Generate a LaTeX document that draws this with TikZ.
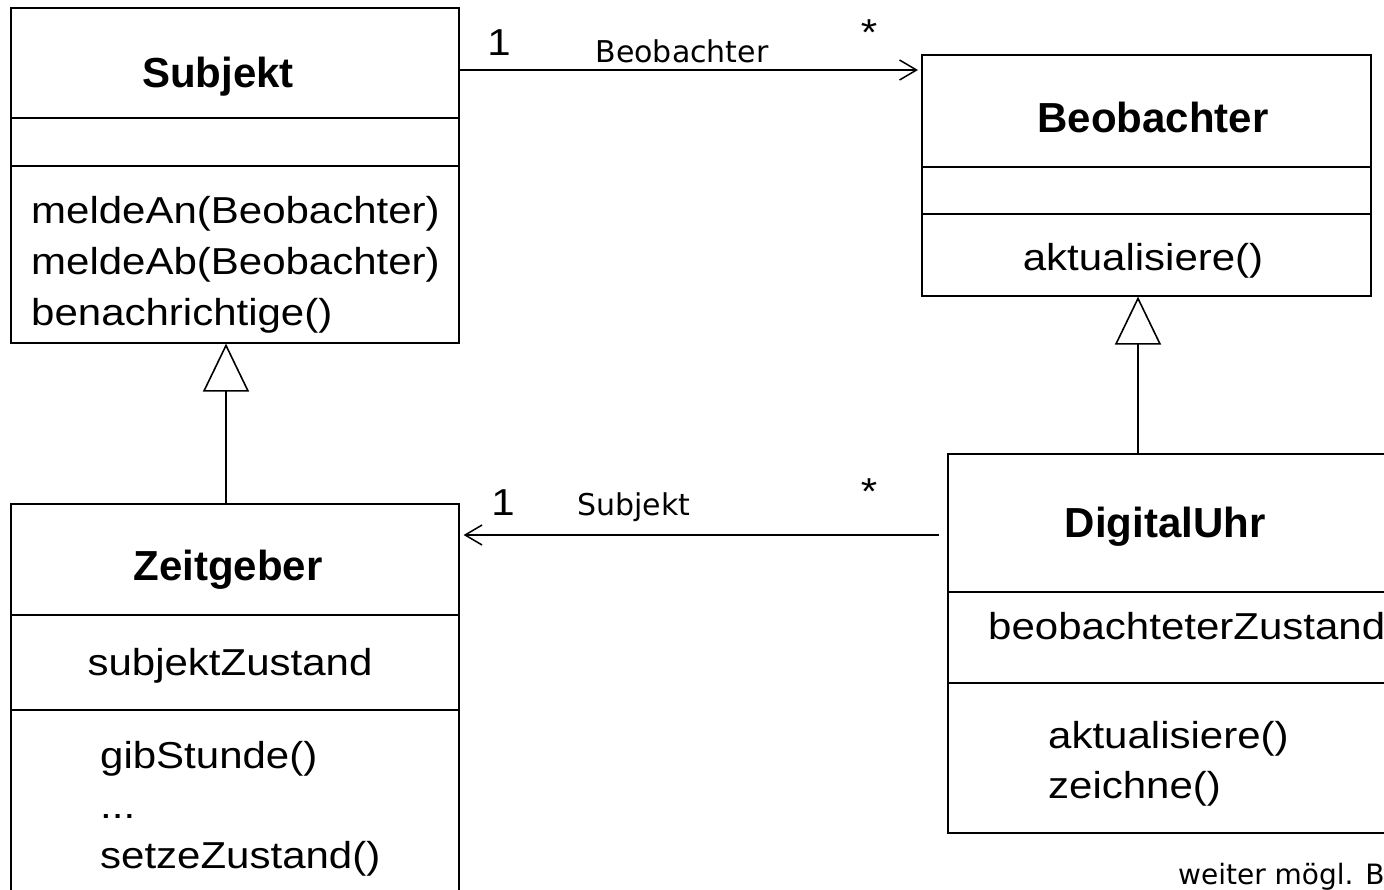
\documentclass[tikz,border=0pt]{standalone}
\usepackage{fontspec}
\setmainfont{Liberation Sans}
\newfontfamily\regfont[FakeStretch=1.12]{Liberation Sans}
\newfontfamily\labfont{DejaVu Sans}
\usetikzlibrary{arrows.meta}

\begin{document}
\begin{tikzpicture}[x=1pt,y=-1pt,
  umlbox/.style={draw, line width=1.6pt, rectangle, inner sep=0pt, anchor=north west},
  divider/.style={line width=1.6pt},
  classtitle/.style={font=\bfseries\fontsize{42}{50}\selectfont, inner sep=0pt, anchor=base},
  member/.style={font=\regfont\fontsize{37.5}{45}\selectfont, inner sep=0pt, anchor=base west},
  cmember/.style={font=\regfont\fontsize{37.5}{45}\selectfont, inner sep=0pt, anchor=base},
  rolelab/.style={font=\labfont\fontsize{30}{36}\selectfont, inner sep=0pt, anchor=base},
  mult/.style={font=\regfont\fontsize{37.5}{45}\selectfont, inner sep=0pt, anchor=base},
  note/.style={font=\labfont\fontsize{28}{34}\selectfont, inner sep=0pt, anchor=base west},
  assoc/.style={line width=1.5pt, -{Straight Barb[length=17pt,width=20pt,line width=1.5pt]}},
  gen/.style={line width=1.6pt, -{Triangle[open,length=48pt,width=46pt,line width=1.6pt]}}
]
\clip (0,0) rectangle (1384,889);
\fill[white] (0,0) rectangle (1384,889);

% class Subjekt
\node[umlbox, minimum width=448pt, minimum height=335pt] (subj) at (10,7) {};
\draw[divider] (subj.west |- 0,118) -- (subj.east |- 0,118);
\draw[divider] (subj.west |- 0,166) -- (subj.east |- 0,166);
\node[classtitle] (subjT) at (218,87) {Subjekt};
\node[member] (subjM1) at (31,223) {meldeAn(Beobachter)};
\node[member] (subjM2) at (31,274) {meldeAb(Beobachter)};
\node[member] (subjM3) at (31,325) {benachrichtige()};

% class Beobachter
\node[umlbox, minimum width=449pt, minimum height=241pt] (beob) at (921,54) {};
\draw[divider] (beob.west |- 0,167) -- (beob.east |- 0,167);
\draw[divider] (beob.west |- 0,214) -- (beob.east |- 0,214);
\node[classtitle] (beobT) at (1153,132) {Beobachter};
\node[cmember] (beobM1) at (1143,270) {aktualisiere()};

% class Zeitgeber
\node[umlbox, minimum width=448pt, minimum height=400pt] (zeit) at (10,503) {};
\draw[divider] (zeit.west |- 0,615) -- (zeit.east |- 0,615);
\draw[divider] (zeit.west |- 0,710) -- (zeit.east |- 0,710);
\node[classtitle] (zeitT) at (228,580) {Zeitgeber};
\node[cmember] (zeitA1) at (230,675) {subjektZustand};
\node[member] (zeitM1) at (100,768) {gibStunde()};
\node[member] (zeitM2) at (100,818) {...};
\node[member] (zeitM3) at (100,868) {setzeZustand()};

% class DigitalUhr
\node[umlbox, minimum width=453pt, minimum height=379pt] (digi) at (947,453) {};
\draw[divider] (digi.west |- 0,592) -- (digi.east |- 0,592);
\draw[divider] (digi.west |- 0,683) -- (digi.east |- 0,683);
\node[classtitle] (digiT) at (1165,537) {DigitalUhr};
\node[member] (digiA1) at (988,639) {beobachteterZustand};
\node[member] (digiM1) at (1048,748) {aktualisiere()};
\node[member] (digiM2) at (1048,798) {zeichne()};

% generalizations
\draw[gen] (zeit.north -| 226,0) -- (subj.south -| 226,0);
\draw[gen] (digi.north -| 1138,0) -- (beob.south -| 1138,0);

% association Subjekt -> Beobachter
\draw[assoc, shorten >=3pt] (subj.east |- 0,70) -- (beob.west |- 0,70);
\node[mult] (m1) at (499,55) {1};
\node[rolelab] (r1) at (682,62) {Beobachter};
\node[mult] (m2) at (869,45) {*};

% association DigitalUhr -> Zeitgeber
\draw[assoc, shorten <=8pt, shorten >=4pt] (digi.west |- 0,535) -- (zeit.east |- 0,535);
\node[mult] (m3) at (503,515) {1};
\node[rolelab] (r2) at (634,515) {Subjekt};
\node[mult] (m4) at (869,504) {*};

\node[note] (more) at (1178,884) {weiter mögl. B};
\end{tikzpicture}
\end{document}
